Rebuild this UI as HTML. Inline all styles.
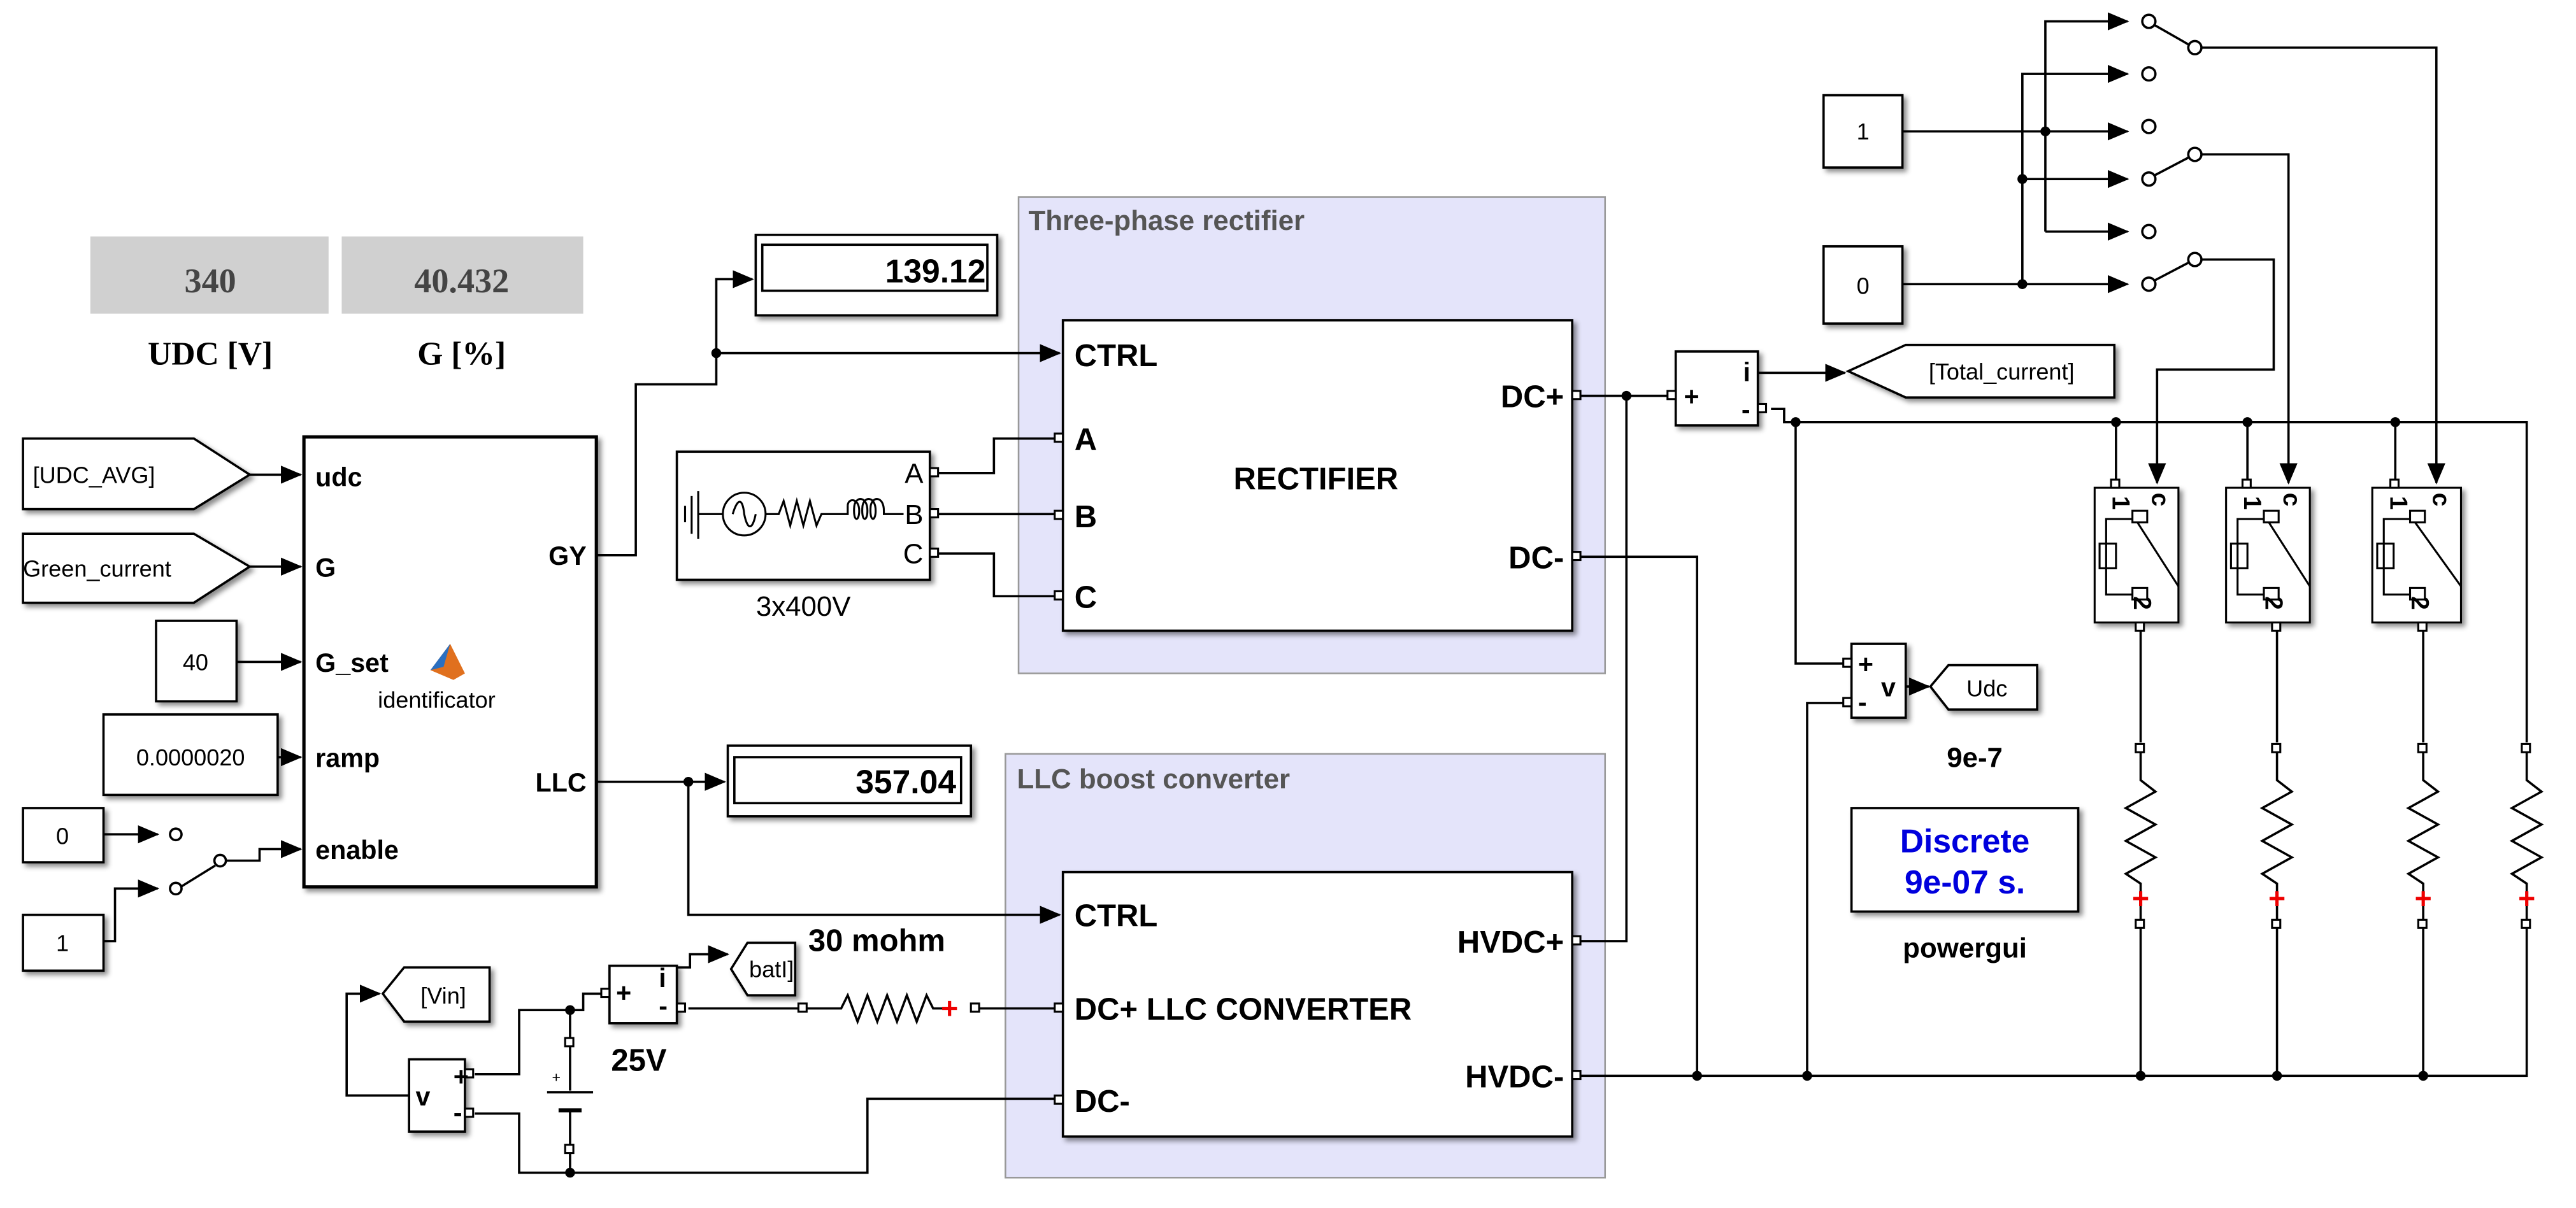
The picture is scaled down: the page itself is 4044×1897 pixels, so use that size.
<!DOCTYPE html>
<html><head><meta charset="utf-8"><style>
html,body{margin:0;padding:0;background:#fff;}
svg{display:block;}
text{font-family:"Liberation Sans",Arial,sans-serif;}
.b{font-weight:bold;}
</style></head><body>
<svg width="4044" height="1897" viewBox="0 0 1568 735.5" preserveAspectRatio="none" xmlns="http://www.w3.org/2000/svg">
<defs>
<marker id="ar" markerWidth="13" markerHeight="11" refX="12" refY="5.5" orient="auto" markerUnits="userSpaceOnUse">
<path d="M0,0 L13,5.5 L0,11 z" fill="#000"/></marker>
<filter id="sh" x="-10%" y="-10%" width="130%" height="130%"><feDropShadow dx="2" dy="2" stdDeviation="1.5" flood-color="#000" flood-opacity="0.45"/></filter>
</defs>
<rect width="1568" height="735.5" fill="#fff"/>

<rect x="620" y="120" width="357" height="290" fill="#e4e4fa" stroke="#999" stroke-width="1"/>
<text x="626" y="140" font-size="17" class="b" fill="#555">Three-phase rectifier</text>
<rect x="612" y="459" width="365" height="258" fill="#e4e4fa" stroke="#999" stroke-width="1"/>
<text x="619" y="480" font-size="17" class="b" fill="#555">LLC boost converter</text>

<rect x="55" y="144" width="145" height="47" fill="#d0d0d0"/>
<text x="128" y="178" font-size="21" text-anchor="middle" font-weight="bold" fill="#444" style="font-family:'Liberation Serif',serif">340</text>
<text x="128" y="222" font-size="20" text-anchor="middle" font-weight="bold" style="font-family:'Liberation Serif',serif">UDC [V]</text>
<rect x="208" y="144" width="147" height="47" fill="#d0d0d0"/>
<text x="281" y="178" font-size="21" text-anchor="middle" font-weight="bold" fill="#444" style="font-family:'Liberation Serif',serif">40.432</text>
<text x="281" y="222" font-size="20" text-anchor="middle" font-weight="bold" style="font-family:'Liberation Serif',serif">G [%]</text>

<g fill="none" stroke="#000" stroke-width="1.4">
<path d="M152,289 H183" marker-end="url(#ar)"/>
<path d="M152,345 H183" marker-end="url(#ar)"/>
<path d="M144,403 H183" marker-end="url(#ar)"/>
<path d="M169,461 H183" marker-end="url(#ar)"/>
<path d="M63,508 H96" marker-end="url(#ar)"/>
<path d="M63,573 H70 V541 H96" marker-end="url(#ar)"/>
<path d="M110,540 L131,527"/>
<path d="M138,524 H158 V517 H183" marker-end="url(#ar)"/>
<path d="M363,338 H387 V234 H436 V170 H458" marker-end="url(#ar)"/>
<path d="M436,215 H645" marker-end="url(#ar)"/>
<path d="M569,288 H605 V267 H643"/>
<path d="M569,313 H643"/>
<path d="M569,337 H605 V363 H643"/>
<path d="M363,476 H441" marker-end="url(#ar)"/>
<path d="M419,476 V557 H645" marker-end="url(#ar)"/>
<path d="M961,241 H1016"/>
<path d="M990,241 V573 H961"/>
<path d="M961,339 H1033 V655"/>
<path d="M961,655 H1538 V565"/>
<path d="M1070,227 H1123" marker-end="url(#ar)"/>
<path d="M1078,249 H1086 V257 H1538 V452"/>
<path d="M1093,257 V404 H1124"/>
<path d="M1100,655 V428 H1124"/>
<path d="M1160,418 H1174" marker-end="url(#ar)"/>
<path d="M1288,257 V294"/><path d="M1368,257 V294"/><path d="M1458,257 V294"/>
<path d="M1303,382 V452"/><path d="M1386,382 V452"/><path d="M1475,382 V452"/>
<path d="M1303,565 V655"/><path d="M1386,565 V655"/><path d="M1475,565 V655"/>
<path d="M1158,80 H1245"/>
<path d="M1158,173 H1231"/>
<path d="M1245,141 V13 H1295" marker-end="url(#ar)"/>
<path d="M1245,80 H1295" marker-end="url(#ar)"/>
<path d="M1245,141 H1295" marker-end="url(#ar)"/>
<path d="M1231,173 V45 H1295" marker-end="url(#ar)"/>
<path d="M1231,109 H1295" marker-end="url(#ar)"/>
<path d="M1231,173 H1295" marker-end="url(#ar)"/>
<path d="M1311,15 L1332,27"/>
<path d="M1311,107 L1332,96"/>
<path d="M1311,171 L1332,160"/>
<path d="M1340,29 H1483 V294" marker-end="url(#ar)"/>
<path d="M1340,94 H1393 V294" marker-end="url(#ar)"/>
<path d="M1340,158 H1384 V225 H1313 V294" marker-end="url(#ar)"/>
<path d="M249,667 H211 V605 H231" marker-end="url(#ar)"/>
<path d="M289,654 H316 V615 H355 V605 H366"/>
<path d="M347,615 V632"/>
<path d="M347,637 V664"/><path d="M347,677 V697"/>
<path d="M347,701 V714"/>
<path d="M289,678 H316 V714 H528 V669 H643"/>
<path d="M412,589 H420 V581 H443" marker-end="url(#ar)"/>
<path d="M419,614 H487"/>
<path d="M491,614 H512 L516,606 L522,622 L528,606 L534,622 L540,606 L546,622 L552,606 L558,622 L564,606 L568,614 H575"/>
<path d="M596,614 H643"/>
<circle cx="107" cy="508" r="3.5" fill="#fff"/><circle cx="107" cy="541" r="3.5" fill="#fff"/><circle cx="134" cy="524" r="3.5" fill="#fff"/>
<circle cx="1308" cy="13" r="4" fill="#fff"/><circle cx="1308" cy="45" r="4" fill="#fff"/><circle cx="1308" cy="77" r="4" fill="#fff"/>
<circle cx="1308" cy="109" r="4" fill="#fff"/><circle cx="1308" cy="141" r="4" fill="#fff"/><circle cx="1308" cy="173" r="4" fill="#fff"/>
<circle cx="1336" cy="29" r="4" fill="#fff"/><circle cx="1336" cy="94" r="4" fill="#fff"/><circle cx="1336" cy="158" r="4" fill="#fff"/>
</g>

<g fill="none" stroke="#000" stroke-width="1.4">
<path d="M1303,458 V475 L1312,482 L1294,492 L1312,502 L1294,512 L1312,522 L1294,532 L1303,538 V560"/>
<path d="M1386,458 V475 L1395,482 L1377,492 L1395,502 L1377,512 L1395,522 L1377,532 L1386,538 V560"/>
<path d="M1475,458 V475 L1484,482 L1466,492 L1484,502 L1466,512 L1484,522 L1466,532 L1475,538 V560"/>
<path d="M1538,458 V475 L1547,482 L1529,492 L1547,502 L1529,512 L1547,522 L1529,532 L1538,538 V560"/>
</g>
<g fill="#e00" font-size="18" font-weight="bold" text-anchor="middle">
<text x="1303" y="553">+</text><text x="1386" y="553">+</text><text x="1475" y="553">+</text><text x="1538" y="553">+</text><text x="578" y="620">+</text>
</g>

<g fill="#000">
<circle cx="436" cy="215" r="3"/><circle cx="419" cy="476" r="3"/><circle cx="990" cy="241" r="3"/>
<circle cx="1033" cy="655" r="3"/><circle cx="1100" cy="655" r="3"/><circle cx="1303" cy="655" r="3"/><circle cx="1386" cy="655" r="3"/><circle cx="1475" cy="655" r="3"/>
<circle cx="1093" cy="257" r="3"/><circle cx="1288" cy="257" r="3"/><circle cx="1368" cy="257" r="3"/><circle cx="1458" cy="257" r="3"/>
<circle cx="1245" cy="80" r="3"/><circle cx="1231" cy="173" r="3"/><circle cx="1231" cy="109" r="3"/>
<circle cx="347" cy="615" r="3"/><circle cx="347" cy="714" r="3"/>
</g>

<g stroke="#000" fill="#fff">
<rect x="185" y="266" width="178" height="274" stroke-width="2" filter="url(#sh)"/>
<rect x="647" y="195" width="310" height="189" stroke-width="1.4" filter="url(#sh)"/>
<rect x="647" y="531" width="310" height="161" stroke-width="1.4" filter="url(#sh)"/>
<rect x="412" y="275" width="154" height="78" stroke-width="1.4" filter="url(#sh)"/>
<rect x="460" y="143" width="147" height="49" stroke-width="1.4" filter="url(#sh)"/>
<rect x="443" y="454" width="148" height="43" stroke-width="1.4" filter="url(#sh)"/>
<rect x="95" y="378" width="49" height="49" stroke-width="1.4" filter="url(#sh)"/>
<rect x="63" y="435" width="106" height="49" stroke-width="1.4" filter="url(#sh)"/>
<rect x="14" y="492" width="49" height="33" stroke-width="1.4" filter="url(#sh)"/>
<rect x="14" y="557" width="49" height="34" stroke-width="1.4" filter="url(#sh)"/>
<rect x="1110" y="58" width="48" height="44" stroke-width="1.4" filter="url(#sh)"/>
<rect x="1110" y="150" width="48" height="47" stroke-width="1.4" filter="url(#sh)"/>
<rect x="1020" y="214" width="50" height="45" stroke-width="1.4" filter="url(#sh)"/>
<rect x="1127" y="392" width="33" height="45" stroke-width="1.4" filter="url(#sh)"/>
<rect x="1127" y="492" width="138" height="63" stroke-width="1.4" filter="url(#sh)"/>
<rect x="249" y="645" width="34" height="44" stroke-width="1.4" filter="url(#sh)"/>
<rect x="371" y="588" width="41" height="35" stroke-width="1.4" filter="url(#sh)"/>
<polygon points="14,267 118,267 152,289 118,310 14,310" stroke-width="1.4" filter="url(#sh)"/>
<polygon points="14,325 118,325 152,345 118,367 14,367" stroke-width="1.4" filter="url(#sh)"/>
<polygon points="1125,226 1160,210 1287,210 1287,242 1160,242" stroke-width="1.4" filter="url(#sh)"/>
<polygon points="1175,418 1186,405 1240,405 1240,432 1186,432" stroke-width="1.4" filter="url(#sh)"/>
<polygon points="233,605 246,589 298,589 298,622 246,622" stroke-width="1.4" filter="url(#sh)"/>
<polygon points="445,590 455,574 484,574 484,606 455,606" stroke-width="1.4" filter="url(#sh)"/>
<rect x="464" y="149" width="137" height="28" stroke-width="1.4" fill="none"/>
<rect x="447" y="461" width="138" height="28" stroke-width="1.4" fill="none"/>
</g>

<g stroke="#000" fill="#fff" stroke-width="1.2">
<g transform="translate(1275,297)">
<rect width="51" height="82" filter="url(#sh)"/>
<rect x="23" y="14" width="9" height="7"/><rect x="23" y="61" width="9" height="7"/>
<rect x="3" y="34" width="10" height="15"/>
<path d="M23,19 H7 V65 H23 M26,21 L51,60" fill="none"/>
<text x="11" y="5" font-size="15" font-weight="bold" fill="#000" stroke="none" transform="rotate(90 11 5)">1</text>
<text x="35" y="3" font-size="15" font-weight="bold" fill="#000" stroke="none" transform="rotate(90 35 3)">c</text>
<text x="24" y="66" font-size="15" font-weight="bold" fill="#000" stroke="none" transform="rotate(90 24 66)">2</text>
</g>
<g transform="translate(1355,297)">
<rect width="51" height="82" filter="url(#sh)"/>
<rect x="23" y="14" width="9" height="7"/><rect x="23" y="61" width="9" height="7"/>
<rect x="3" y="34" width="10" height="15"/>
<path d="M23,19 H7 V65 H23 M26,21 L51,60" fill="none"/>
<text x="11" y="5" font-size="15" font-weight="bold" fill="#000" stroke="none" transform="rotate(90 11 5)">1</text>
<text x="35" y="3" font-size="15" font-weight="bold" fill="#000" stroke="none" transform="rotate(90 35 3)">c</text>
<text x="24" y="66" font-size="15" font-weight="bold" fill="#000" stroke="none" transform="rotate(90 24 66)">2</text>
</g>
<g transform="translate(1444,297)">
<rect width="54" height="82" filter="url(#sh)"/>
<rect x="23" y="14" width="9" height="7"/><rect x="23" y="61" width="9" height="7"/>
<rect x="3" y="34" width="10" height="15"/>
<path d="M23,19 H7 V65 H23 M26,21 L54,60" fill="none"/>
<text x="11" y="5" font-size="15" font-weight="bold" fill="#000" stroke="none" transform="rotate(90 11 5)">1</text>
<text x="37" y="3" font-size="15" font-weight="bold" fill="#000" stroke="none" transform="rotate(90 37 3)">c</text>
<text x="24" y="66" font-size="15" font-weight="bold" fill="#000" stroke="none" transform="rotate(90 24 66)">2</text>
</g>
</g>

<g fill="none" stroke="#000" stroke-width="1.2">
<path d="M417,308 V318 M421,302 V325 M425,299 V328 M425,313 H440"/>
<circle cx="453" cy="313" r="13"/>
<path d="M446,313 C449,303 452,303 453,313 C455,323 458,323 460,313"/>
<path d="M466,313 H474 L477,305 L481,320 L485,305 L489,320 L493,305 L497,320 L500,313 H516 V308"/>
<path d="M516,308 c0,-5 7,-5 7,3 c0,7 -4,7 -3,-3 c1,-6 8,-6 8,3 c0,7 -4,7 -3,-3 c1,-6 8,-6 8,3 c0,7 -4,7 -3,-3 c1,-6 8,-6 8,3 V313 H550"/>
</g>

<g stroke="#000" stroke-width="1.5">
<line x1="333" y1="665" x2="361" y2="665"/><line x1="340" y1="676" x2="354" y2="676" stroke-width="2.5"/>
</g>
<text x="336" y="659" font-size="9">+</text>

<g fill="#fff" stroke="#000" stroke-width="1.2">
<rect x="566" y="285" width="5" height="5"/><rect x="566" y="310" width="5" height="5"/><rect x="566" y="334" width="5" height="5"/>
<rect x="642" y="264" width="5" height="5"/><rect x="642" y="311" width="5" height="5"/><rect x="642" y="360" width="5" height="5"/>
<rect x="957" y="238" width="5" height="5"/><rect x="957" y="336" width="5" height="5"/>
<rect x="957" y="570" width="5" height="5"/><rect x="957" y="652" width="5" height="5"/>
<rect x="642" y="611" width="5" height="5"/><rect x="642" y="667" width="5" height="5"/>
<rect x="1015" y="238" width="5" height="5"/><rect x="1070" y="246" width="5" height="5"/>
<rect x="1122" y="401" width="5" height="5"/><rect x="1122" y="425" width="5" height="5"/>
<rect x="1285" y="292" width="5" height="5"/><rect x="1365" y="292" width="5" height="5"/><rect x="1455" y="292" width="5" height="5"/>
<rect x="1300" y="379" width="5" height="5"/><rect x="1383" y="379" width="5" height="5"/><rect x="1472" y="379" width="5" height="5"/>
<rect x="1300" y="453" width="5" height="5"/><rect x="1383" y="453" width="5" height="5"/><rect x="1472" y="453" width="5" height="5"/><rect x="1535" y="453" width="5" height="5"/>
<rect x="1300" y="560" width="5" height="5"/><rect x="1383" y="560" width="5" height="5"/><rect x="1472" y="560" width="5" height="5"/><rect x="1535" y="560" width="5" height="5"/>
<rect x="283" y="651" width="5" height="5"/><rect x="283" y="675" width="5" height="5"/>
<rect x="366" y="602" width="5" height="5"/><rect x="412" y="611" width="5" height="5"/>
<rect x="486" y="611" width="5" height="5"/><rect x="591" y="611" width="5" height="5"/>
<rect x="344" y="632" width="5" height="5"/><rect x="344" y="697" width="5" height="5"/>
</g>

<path d="M262,408 L274,392 L283,410 L276,414 Z" fill="#e0701e"/>
<path d="M262,408 L274,392 L270,406 Z" fill="#2a6fc0"/>

<g font-size="16" font-weight="bold">
<text x="192" y="296">udc</text><text x="192" y="351">G</text><text x="192" y="409">G_set</text>
<text x="192" y="467">ramp</text><text x="192" y="523">enable</text>
<text x="357" y="344" text-anchor="end">GY</text><text x="357" y="482" text-anchor="end">LLC</text>
</g>
<text x="230" y="431" font-size="14">identificator</text>
<g font-size="14">
<text x="20" y="294">[UDC_AVG]</text><text x="14" y="351">Green_current</text>
<text x="119" y="408" text-anchor="middle">40</text><text x="116" y="466" text-anchor="middle">0.0000020</text>
<text x="38" y="514" text-anchor="middle">0</text><text x="38" y="579" text-anchor="middle">1</text>
<text x="1134" y="85" text-anchor="middle">1</text><text x="1134" y="179" text-anchor="middle">0</text>
<text x="1174" y="231">[Total_current]</text><text x="1197" y="424">Udc</text>
<text x="256" y="611">[Vin]</text><text x="456" y="595">batI]</text>
</g>
<g font-size="17">
<text x="562" y="294" text-anchor="end">A</text><text x="562" y="319" text-anchor="end">B</text><text x="562" y="343" text-anchor="end">C</text>
<text x="489" y="375" text-anchor="middle">3x400V</text>
</g>
<g font-size="20" font-weight="bold">
<text x="600" y="172" text-anchor="end">139.12</text><text x="582" y="483" text-anchor="end">357.04</text>
</g>
<g font-size="19" font-weight="bold">
<text x="654" y="223">CTRL</text><text x="654" y="274">A</text><text x="654" y="321">B</text><text x="654" y="370">C</text>
<text x="801" y="298" text-anchor="middle">RECTIFIER</text>
<text x="952" y="248" text-anchor="end">DC+</text><text x="952" y="346" text-anchor="end">DC-</text>
<text x="654" y="564">CTRL</text><text x="654" y="621">DC+ LLC CONVERTER</text><text x="654" y="677">DC-</text>
<text x="952" y="580" text-anchor="end">HVDC+</text><text x="952" y="662" text-anchor="end">HVDC-</text>
<text x="492" y="579">30 mohm</text><text x="372" y="652">25V</text>
</g>
<g font-size="16" font-weight="bold">
<text x="1025" y="247">+</text><text x="1061" y="232">i</text><text x="1060" y="255">-</text>
<text x="1131" y="410">+</text><text x="1131" y="433">-</text><text x="1145" y="424">v</text>
<text x="276" y="661">+</text><text x="276" y="683">-</text><text x="253" y="673">v</text>
<text x="375" y="610">+</text><text x="401" y="601">i</text><text x="401" y="618">-</text>
<text x="1185" y="467" font-size="17">9e-7</text>
<text x="1196" y="583" text-anchor="middle" font-size="17">powergui</text>
</g>
<g font-size="20" font-weight="bold" fill="#0000dd" text-anchor="middle">
<text x="1196" y="519">Discrete</text><text x="1196" y="544">9e-07 s.</text>
</g>
</svg>
</body></html>
